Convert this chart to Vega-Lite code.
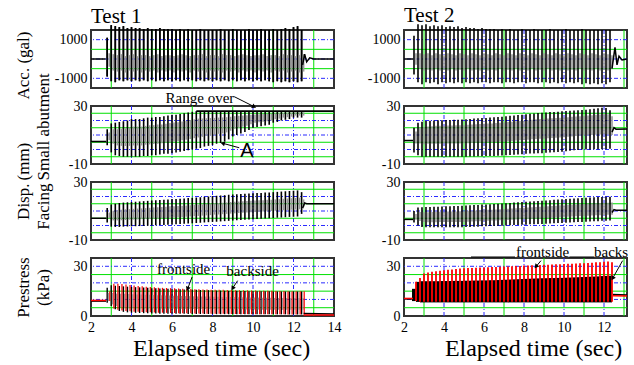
{
"$schema": "https://vega.github.io/schema/vega-lite/v6.json",
"padding": {"left": 13, "top": 4, "right": 0, "bottom": 0},
"background": "white",
"config": {
 "font": "Liberation Serif",
 "view": {"stroke": "#333333", "strokeWidth": 2},
 "axis": {"labelFont": "Liberation Serif", "labelFontSize": 14, "labelColor": "#000", "titleFont": "Liberation Serif", "titleFontSize": 17, "titleFontWeight": "normal", "titleColor": "#000", "domain": false, "ticks": false, "grid": false, "labelOverlap": false, "labelFlush": false, "labelPadding": 4},
 "title": {"font": "Liberation Serif", "fontSize": 21, "fontWeight": "normal", "color": "#000", "anchor": "start", "frame": "group", "offset": -3}
},
"datasets": {
 "gxm": [{"v":3},{"v":5},{"v":7},{"v":9},{"v":11},{"v":13}],
 "gxM": [{"v":4},{"v":6},{"v":8},{"v":10},{"v":12}],
 "gyAm": [{"v":-500},{"v":500}],
 "gyAM": [{"v":-1000},{"v":0},{"v":1000}],
 "gyDm": [{"v":-5},{"v":5},{"v":15},{"v":25}],
 "gyDM": [{"v":0},{"v":10},{"v":20}],
 "gyPm": [{"v":5},{"v":15},{"v":25}],
 "gyPM": [{"v":10},{"v":20},{"v":30}],
 "a1": [
{"t":2.8,"hi":1100,"lo":-900,"gh":300,"gl":-400},{"t":3.0,"hi":1750,"lo":-1150,"gh":250,"gl":-600},{"t":3.2,"hi":1700,"lo":-1200,"gh":200,"gl":-650},{"t":3.4,"hi":1650,"lo":-1100,"gh":250,"gl":-600},{"t":3.6,"hi":1700,"lo":-1150,"gh":150,"gl":-700},{"t":3.8,"hi":1600,"lo":-1100,"gh":200,"gl":-600},{"t":4.0,"hi":1650,"lo":-1150,"gh":250,"gl":-650},{"t":4.2,"hi":1600,"lo":-1100,"gh":150,"gl":-600},{"t":4.4,"hi":1600,"lo":-1150,"gh":200,"gl":-700},{"t":4.6,"hi":1550,"lo":-1100,"gh":200,"gl":-600},{"t":4.8,"hi":1600,"lo":-1150,"gh":150,"gl":-650},{"t":5.0,"hi":1550,"lo":-1100,"gh":200,"gl":-600},{"t":5.2,"hi":1550,"lo":-1150,"gh":250,"gl":-700},{"t":5.4,"hi":1600,"lo":-1100,"gh":150,"gl":-600},{"t":5.6,"hi":1550,"lo":-1150,"gh":200,"gl":-650},{"t":5.8,"hi":1550,"lo":-1100,"gh":200,"gl":-600},{"t":6.0,"hi":1550,"lo":-1150,"gh":150,"gl":-700},{"t":6.2,"hi":1500,"lo":-1100,"gh":200,"gl":-600},{"t":6.4,"hi":1550,"lo":-1150,"gh":250,"gl":-650},{"t":6.6,"hi":1500,"lo":-1100,"gh":200,"gl":-600},{"t":6.8,"hi":1550,"lo":-1150,"gh":150,"gl":-700},{"t":7.0,"hi":1500,"lo":-1100,"gh":200,"gl":-600},{"t":7.2,"hi":1500,"lo":-1150,"gh":200,"gl":-650},{"t":7.4,"hi":1550,"lo":-1100,"gh":250,"gl":-600},{"t":7.6,"hi":1500,"lo":-1150,"gh":150,"gl":-700},{"t":7.8,"hi":1500,"lo":-1100,"gh":200,"gl":-600},{"t":8.0,"hi":1500,"lo":-1150,"gh":200,"gl":-650},{"t":8.2,"hi":1500,"lo":-1100,"gh":150,"gl":-600},{"t":8.4,"hi":1550,"lo":-1150,"gh":250,"gl":-700},{"t":8.6,"hi":1500,"lo":-1100,"gh":200,"gl":-600},{"t":8.8,"hi":1500,"lo":-1150,"gh":200,"gl":-650},{"t":9.0,"hi":1550,"lo":-1100,"gh":150,"gl":-600},{"t":9.2,"hi":1500,"lo":-1150,"gh":200,"gl":-700},{"t":9.4,"hi":1500,"lo":-1100,"gh":250,"gl":-600},{"t":9.6,"hi":1500,"lo":-1150,"gh":200,"gl":-650},{"t":9.8,"hi":1550,"lo":-1100,"gh":150,"gl":-600},{"t":10.0,"hi":1500,"lo":-1150,"gh":200,"gl":-700},{"t":10.2,"hi":1500,"lo":-1100,"gh":200,"gl":-600},{"t":10.4,"hi":1550,"lo":-1150,"gh":250,"gl":-650},{"t":10.6,"hi":1500,"lo":-1100,"gh":150,"gl":-600},{"t":10.8,"hi":1500,"lo":-1150,"gh":200,"gl":-700},{"t":11.0,"hi":1550,"lo":-1200,"gh":200,"gl":-600},{"t":11.2,"hi":1500,"lo":-1150,"gh":150,"gl":-650},{"t":11.4,"hi":1550,"lo":-1200,"gh":250,"gl":-600},{"t":11.6,"hi":1600,"lo":-1150,"gh":200,"gl":-700},{"t":11.8,"hi":1550,"lo":-1200,"gh":200,"gl":-650},{"t":12.0,"hi":1650,"lo":-1150,"gh":150,"gl":-600},{"t":12.2,"hi":1700,"lo":-1200,"gh":200,"gl":-700},{"t":12.4,"hi":1500,"lo":-1150,"gh":250,"gl":-650}
 ],
 "a1l": [{"g":1,"t":2,"v":0},{"g":1,"t":2.72,"v":0},{"g":2,"t":12.45,"v":-300},{"g":2,"t":12.55,"v":250},{"g":2,"t":12.65,"v":-150},{"g":2,"t":12.8,"v":60},{"g":2,"t":13,"v":0},{"g":2,"t":14,"v":0}],
 "d1": [
{"t":2.8,"hi":14,"lo":3,"gh":11.8,"gl":6.3},{"t":3.0,"hi":18,"lo":-2,"gh":14,"gl":4},{"t":3.2,"hi":18.5,"lo":-4,"gh":14,"gl":2.8},{"t":3.4,"hi":19,"lo":-4.5,"gh":14.3,"gl":2.5},{"t":3.6,"hi":19.5,"lo":-5,"gh":14.6,"gl":2.4},{"t":3.8,"hi":20,"lo":-5,"gh":15,"gl":2.5},{"t":4.0,"hi":21,"lo":-5,"gh":15.8,"gl":2.8},{"t":4.2,"hi":21,"lo":-5,"gh":15.8,"gl":2.8},{"t":4.4,"hi":21,"lo":-5,"gh":15.8,"gl":2.8},{"t":4.6,"hi":21.5,"lo":-4.5,"gh":16.3,"gl":3.3},{"t":4.8,"hi":22,"lo":-4.5,"gh":16.7,"gl":3.5},{"t":5.0,"hi":22,"lo":-4,"gh":16.8,"gl":3.8},{"t":5.2,"hi":22.5,"lo":-4,"gh":17.2,"gl":4},{"t":5.4,"hi":22.5,"lo":-3.5,"gh":17.3,"gl":4.3},{"t":5.6,"hi":23,"lo":-3,"gh":17.8,"gl":4.8},{"t":5.8,"hi":23.5,"lo":-3,"gh":18.2,"gl":5},{"t":6.0,"hi":24,"lo":-2.5,"gh":18.7,"gl":5.5},{"t":6.2,"hi":24,"lo":-2,"gh":18.8,"gl":5.8},{"t":6.4,"hi":24.5,"lo":-1.5,"gh":19.3,"gl":6.3},{"t":6.6,"hi":25,"lo":-1,"gh":19.8,"gl":6.8},{"t":6.8,"hi":25.5,"lo":-0.5,"gh":20.3,"gl":7.3},{"t":7.0,"hi":26,"lo":0,"gh":20.8,"gl":7.8},{"t":7.2,"hi":26.5,"lo":0.5,"gh":21.3,"gl":8.3},{"t":7.4,"hi":26.5,"lo":1,"gh":21.4,"gl":8.7},{"t":7.6,"hi":26.5,"lo":2,"gh":21.6,"gl":9.4},{"t":7.8,"hi":26.5,"lo":2.5,"gh":21.7,"gl":9.7},{"t":8.0,"hi":26.5,"lo":3,"gh":21.8,"gl":10},{"t":8.2,"hi":26.5,"lo":4,"gh":22,"gl":10.8},{"t":8.4,"hi":26.5,"lo":4.5,"gh":22.1,"gl":11.1},{"t":8.6,"hi":26.5,"lo":5.5,"gh":22.3,"gl":11.8},{"t":8.8,"hi":26.5,"lo":7,"gh":22.6,"gl":12.9},{"t":9.0,"hi":26.5,"lo":9,"gh":23,"gl":14.3},{"t":9.2,"hi":26.5,"lo":10,"gh":23.2,"gl":15},{"t":9.4,"hi":26.5,"lo":11,"gh":23.4,"gl":15.7},{"t":9.6,"hi":26.5,"lo":12,"gh":23.6,"gl":16.4},{"t":9.8,"hi":26.5,"lo":13.5,"gh":23.9,"gl":17.4},{"t":10.0,"hi":26.5,"lo":15,"gh":24.2,"gl":18.5},{"t":10.2,"hi":26.5,"lo":15.5,"gh":24.3,"gl":18.8},{"t":10.4,"hi":26.5,"lo":16,"gh":24.4,"gl":19.2},{"t":10.6,"hi":26.5,"lo":16.5,"gh":24.5,"gl":19.5},{"t":10.8,"hi":26.5,"lo":17,"gh":24.6,"gl":19.9},{"t":11.0,"hi":26.5,"lo":18.5,"gh":24.9,"gl":20.9},{"t":11.2,"hi":26.5,"lo":19,"gh":25,"gl":21.3},{"t":11.4,"hi":26.5,"lo":20,"gh":25.2,"gl":22},{"t":11.6,"hi":26.5,"lo":20.5,"gh":25.3,"gl":22.3},{"t":11.8,"hi":26.5,"lo":21,"gh":25.4,"gl":22.7},{"t":12.0,"hi":26.5,"lo":22,"gh":25.6,"gl":23.4},{"t":12.2,"hi":26.5,"lo":22,"gh":25.6,"gl":23.4},{"t":12.4,"hi":26.5,"lo":22,"gh":25.6,"gl":23.4}
 ],
 "d1l": [{"g":1,"t":2,"v":5.5},{"g":1,"t":2.75,"v":5.5},{"g":2,"t":7.2,"v":26.5},{"g":2,"t":14,"v":26.5}],
 "f1": [
{"t":2.8,"hi":12,"lo":2,"gh":9,"gl":5},{"t":3.0,"hi":14.5,"lo":-0.8,"gh":10.2,"gl":3.5},{"t":3.2,"hi":15,"lo":-1,"gh":10.5,"gl":3.5},{"t":3.4,"hi":15.5,"lo":-1,"gh":10.9,"gl":3.6},{"t":3.6,"hi":15.8,"lo":-0.8,"gh":11.2,"gl":3.8},{"t":3.8,"hi":16,"lo":-0.7,"gh":11.3,"gl":4},{"t":4.0,"hi":16.2,"lo":-0.6,"gh":11.5,"gl":4.1},{"t":4.2,"hi":16.4,"lo":-0.5,"gh":11.7,"gl":4.2},{"t":4.4,"hi":16.6,"lo":-0.4,"gh":11.8,"gl":4.4},{"t":4.6,"hi":16.8,"lo":-0.3,"gh":12,"gl":4.5},{"t":4.8,"hi":17,"lo":-0.2,"gh":12.2,"gl":4.6},{"t":5.0,"hi":17.3,"lo":0,"gh":12.5,"gl":4.8},{"t":5.2,"hi":17.4,"lo":0.1,"gh":12.6,"gl":4.9},{"t":5.4,"hi":17.6,"lo":0.3,"gh":12.8,"gl":5.1},{"t":5.6,"hi":17.8,"lo":0.4,"gh":13,"gl":5.2},{"t":5.8,"hi":18,"lo":0.6,"gh":13.2,"gl":5.4},{"t":6.0,"hi":18.2,"lo":0.7,"gh":13.3,"gl":5.6},{"t":6.2,"hi":18.3,"lo":0.9,"gh":13.5,"gl":5.7},{"t":6.4,"hi":18.5,"lo":1,"gh":13.6,"gl":5.9},{"t":6.6,"hi":18.7,"lo":1.2,"gh":13.8,"gl":6.1},{"t":6.8,"hi":18.9,"lo":1.3,"gh":14,"gl":6.2},{"t":7.0,"hi":19.1,"lo":1.5,"gh":14.2,"gl":6.4},{"t":7.2,"hi":19.3,"lo":1.7,"gh":14.4,"gl":6.6},{"t":7.4,"hi":19.5,"lo":1.9,"gh":14.6,"gl":6.8},{"t":7.6,"hi":19.8,"lo":2.1,"gh":14.9,"gl":7},{"t":7.8,"hi":20,"lo":2.3,"gh":15.1,"gl":7.2},{"t":8.0,"hi":20.3,"lo":2.5,"gh":15.3,"gl":7.5},{"t":8.2,"hi":20.5,"lo":2.6,"gh":15.5,"gl":7.6},{"t":8.4,"hi":20.7,"lo":2.8,"gh":15.7,"gl":7.8},{"t":8.6,"hi":20.9,"lo":3,"gh":15.9,"gl":8},{"t":8.8,"hi":21.2,"lo":3.2,"gh":16.2,"gl":8.2},{"t":9.0,"hi":21.4,"lo":3.4,"gh":16.4,"gl":8.4},{"t":9.2,"hi":21.5,"lo":3.6,"gh":16.5,"gl":8.6},{"t":9.4,"hi":21.7,"lo":3.8,"gh":16.7,"gl":8.8},{"t":9.6,"hi":21.9,"lo":4,"gh":16.9,"gl":9},{"t":9.8,"hi":22,"lo":4.1,"gh":17,"gl":9.1},{"t":10.0,"hi":22.2,"lo":4.3,"gh":17.2,"gl":9.3},{"t":10.2,"hi":22.4,"lo":4.5,"gh":17.4,"gl":9.5},{"t":10.4,"hi":22.5,"lo":4.7,"gh":17.5,"gl":9.7},{"t":10.6,"hi":22.7,"lo":4.9,"gh":17.7,"gl":9.9},{"t":10.8,"hi":22.8,"lo":5,"gh":17.8,"gl":10},{"t":11.0,"hi":23,"lo":5.2,"gh":18,"gl":10.2},{"t":11.2,"hi":23.2,"lo":5.4,"gh":18.2,"gl":10.4},{"t":11.4,"hi":23.4,"lo":5.5,"gh":18.4,"gl":10.5},{"t":11.6,"hi":23.6,"lo":5.7,"gh":18.6,"gl":10.7},{"t":11.8,"hi":23.8,"lo":5.9,"gh":18.8,"gl":10.9},{"t":12.0,"hi":24,"lo":6,"gh":19,"gl":11},{"t":12.2,"hi":24.2,"lo":6.2,"gh":19.2,"gl":11.2},{"t":12.4,"hi":23,"lo":8,"gh":18,"gl":13}
 ],
 "f1l": [{"g":1,"t":2,"v":5},{"g":1,"t":2.75,"v":5},{"g":2,"t":12.45,"v":12},{"g":2,"t":12.55,"v":15.5},{"g":2,"t":12.65,"v":15},{"g":2,"t":14,"v":15}],
 "p1": [
{"t":2.8,"hi":17,"lo":8,"gh":14,"gl":9,"rh":15,"rl":9},{"t":3.0,"hi":18.5,"lo":6,"gh":14,"gl":7,"rh":19.5,"rl":4.5},{"t":3.2,"hi":18.3,"lo":4,"gh":13.5,"gl":6,"rh":19.5,"rl":3.8},{"t":3.4,"hi":18.1,"lo":3,"gh":13.5,"gl":5.5,"rh":19.3,"rl":3.3},{"t":3.6,"hi":17.9,"lo":2.5,"gh":13.5,"gl":5,"rh":19,"rl":3},{"t":3.8,"hi":17.7,"lo":2.2,"gh":13.3,"gl":5,"rh":18.7,"rl":2.8},{"t":4.0,"hi":17.5,"lo":2,"gh":13.2,"gl":5,"rh":18.4,"rl":2.6},{"t":4.2,"hi":17.4,"lo":1.9,"gh":13,"gl":5,"rh":18.1,"rl":2.5},{"t":4.4,"hi":17.3,"lo":1.8,"gh":13,"gl":4.8,"rh":17.9,"rl":2.4},{"t":4.6,"hi":17.2,"lo":1.7,"gh":12.8,"gl":4.8,"rh":17.7,"rl":2.3},{"t":4.8,"hi":17,"lo":1.6,"gh":12.8,"gl":4.8,"rh":17.5,"rl":2.2},{"t":5.0,"hi":16.8,"lo":1.5,"gh":12.6,"gl":4.7,"rh":17.3,"rl":2.1},{"t":5.2,"hi":16.7,"lo":1.5,"gh":12.5,"gl":4.7,"rh":17.1,"rl":2},{"t":5.4,"hi":16.6,"lo":1.4,"gh":12.5,"gl":4.6,"rh":17,"rl":2},{"t":5.6,"hi":16.5,"lo":1.4,"gh":12.4,"gl":4.6,"rh":16.9,"rl":1.9},{"t":5.8,"hi":16.4,"lo":1.4,"gh":12.3,"gl":4.5,"rh":16.8,"rl":1.8},{"t":6.0,"hi":16.3,"lo":1.3,"gh":12.2,"gl":4.5,"rh":16.7,"rl":1.8},{"t":6.2,"hi":16.2,"lo":1.3,"gh":12.2,"gl":4.5,"rh":16.6,"rl":1.7},{"t":6.4,"hi":16.1,"lo":1.3,"gh":12.1,"gl":4.4,"rh":16.5,"rl":1.7},{"t":6.6,"hi":16,"lo":1.3,"gh":12,"gl":4.4,"rh":16.4,"rl":1.6},{"t":6.8,"hi":16,"lo":1.2,"gh":12,"gl":4.4,"rh":16.3,"rl":1.6},{"t":7.0,"hi":15.9,"lo":1.2,"gh":11.9,"gl":4.3,"rh":16.2,"rl":1.5},{"t":7.2,"hi":15.8,"lo":1.2,"gh":11.8,"gl":4.3,"rh":16.1,"rl":1.5},{"t":7.4,"hi":15.7,"lo":1.2,"gh":11.8,"gl":4.3,"rh":16,"rl":1.5},{"t":7.6,"hi":15.6,"lo":1.2,"gh":11.7,"gl":4.2,"rh":16,"rl":1.4},{"t":7.8,"hi":15.6,"lo":1.2,"gh":11.7,"gl":4.2,"rh":15.9,"rl":1.4},{"t":8.0,"hi":15.5,"lo":1.1,"gh":11.6,"gl":4.2,"rh":15.9,"rl":1.4},{"t":8.2,"hi":15.4,"lo":1.1,"gh":11.6,"gl":4.1,"rh":15.8,"rl":1.3},{"t":8.4,"hi":15.4,"lo":1.1,"gh":11.5,"gl":4.1,"rh":15.8,"rl":1.3},{"t":8.6,"hi":15.3,"lo":1.1,"gh":11.5,"gl":4.1,"rh":15.7,"rl":1.3},{"t":8.8,"hi":15.3,"lo":1.1,"gh":11.4,"gl":4,"rh":15.7,"rl":1.2},{"t":9.0,"hi":15.2,"lo":1.1,"gh":11.4,"gl":4,"rh":15.6,"rl":1.2},{"t":9.2,"hi":15.2,"lo":1.1,"gh":11.3,"gl":4,"rh":15.6,"rl":1.2},{"t":9.4,"hi":15.1,"lo":1.1,"gh":11.3,"gl":4,"rh":15.5,"rl":1.2},{"t":9.6,"hi":15.1,"lo":1,"gh":11.2,"gl":3.9,"rh":15.5,"rl":1.1},{"t":9.8,"hi":15,"lo":1,"gh":11.2,"gl":3.9,"rh":15.4,"rl":1.1},{"t":10.0,"hi":15,"lo":1,"gh":11.1,"gl":3.9,"rh":15.4,"rl":1.1},{"t":10.2,"hi":15,"lo":1,"gh":11.1,"gl":3.9,"rh":15.3,"rl":1.1},{"t":10.4,"hi":14.9,"lo":1,"gh":11,"gl":3.8,"rh":15.3,"rl":1},{"t":10.6,"hi":14.9,"lo":1,"gh":11,"gl":3.8,"rh":15.2,"rl":1},{"t":10.8,"hi":14.9,"lo":1,"gh":11,"gl":3.8,"rh":15.2,"rl":1},{"t":11.0,"hi":14.8,"lo":1,"gh":10.9,"gl":3.8,"rh":15.1,"rl":1},{"t":11.2,"hi":14.8,"lo":1,"gh":10.9,"gl":3.8,"rh":15.1,"rl":1},{"t":11.4,"hi":14.8,"lo":1,"gh":10.9,"gl":3.7,"rh":15.1,"rl":1},{"t":11.6,"hi":14.8,"lo":1,"gh":10.8,"gl":3.7,"rh":15,"rl":0.9},{"t":11.8,"hi":14.8,"lo":0.9,"gh":10.8,"gl":3.7,"rh":15,"rl":0.9},{"t":12.0,"hi":14.8,"lo":0.9,"gh":10.8,"gl":3.7,"rh":15,"rl":0.9},{"t":12.2,"hi":14.8,"lo":0.9,"gh":10.8,"gl":3.7,"rh":15,"rl":0.9},{"t":12.4,"hi":14.8,"lo":0.9,"gh":10.8,"gl":3.7,"rh":15,"rl":0.9}
 ],
 "p1l": [{"g":1,"c":"k","t":2,"v":9},{"g":1,"c":"k","t":2.75,"v":9},{"g":2,"c":"k","t":12.5,"v":1.5},{"g":2,"c":"k","t":14,"v":1.2},{"g":3,"c":"r","t":2,"v":9.4},{"g":3,"c":"r","t":2.75,"v":9.4},{"g":4,"c":"r","t":12.5,"v":0.6},{"g":4,"c":"r","t":14,"v":0.6}],
 "a2": [
{"t":2.5,"hi":1200,"lo":-800,"gh":300,"gl":-300},{"t":2.7,"hi":1800,"lo":-1200,"gh":300,"gl":-500},{"t":2.9,"hi":1750,"lo":-1300,"gh":250,"gl":-600},{"t":3.1,"hi":1800,"lo":-1200,"gh":300,"gl":-550},{"t":3.3,"hi":1700,"lo":-1250,"gh":200,"gl":-600},{"t":3.5,"hi":1750,"lo":-1200,"gh":300,"gl":-500},{"t":3.7,"hi":1700,"lo":-1300,"gh":250,"gl":-600},{"t":3.9,"hi":1750,"lo":-1200,"gh":200,"gl":-550},{"t":4.1,"hi":1650,"lo":-1250,"gh":300,"gl":-600},{"t":4.3,"hi":1700,"lo":-1200,"gh":250,"gl":-500},{"t":4.5,"hi":1650,"lo":-1250,"gh":200,"gl":-600},{"t":4.7,"hi":1700,"lo":-1200,"gh":300,"gl":-550},{"t":4.9,"hi":1600,"lo":-1250,"gh":250,"gl":-600},{"t":5.1,"hi":1650,"lo":-1200,"gh":200,"gl":-500},{"t":5.3,"hi":1600,"lo":-1250,"gh":300,"gl":-600},{"t":5.5,"hi":1600,"lo":-1200,"gh":250,"gl":-550},{"t":5.7,"hi":1550,"lo":-1250,"gh":200,"gl":-600},{"t":5.9,"hi":1600,"lo":-1200,"gh":300,"gl":-500},{"t":6.1,"hi":1550,"lo":-1200,"gh":250,"gl":-600},{"t":6.3,"hi":1550,"lo":-1250,"gh":200,"gl":-550},{"t":6.5,"hi":1550,"lo":-1200,"gh":300,"gl":-600},{"t":6.7,"hi":1500,"lo":-1200,"gh":250,"gl":-500},{"t":6.9,"hi":1550,"lo":-1250,"gh":200,"gl":-600},{"t":7.1,"hi":1500,"lo":-1200,"gh":300,"gl":-550},{"t":7.3,"hi":1550,"lo":-1200,"gh":250,"gl":-600},{"t":7.5,"hi":1500,"lo":-1250,"gh":200,"gl":-500},{"t":7.7,"hi":1500,"lo":-1200,"gh":300,"gl":-600},{"t":7.9,"hi":1550,"lo":-1200,"gh":250,"gl":-550},{"t":8.1,"hi":1500,"lo":-1250,"gh":200,"gl":-600},{"t":8.3,"hi":1500,"lo":-1200,"gh":300,"gl":-500},{"t":8.5,"hi":1550,"lo":-1200,"gh":250,"gl":-600},{"t":8.7,"hi":1500,"lo":-1250,"gh":200,"gl":-550},{"t":8.9,"hi":1500,"lo":-1200,"gh":300,"gl":-600},{"t":9.1,"hi":1500,"lo":-1200,"gh":250,"gl":-500},{"t":9.3,"hi":1550,"lo":-1250,"gh":200,"gl":-600},{"t":9.5,"hi":1500,"lo":-1200,"gh":300,"gl":-550},{"t":9.7,"hi":1500,"lo":-1250,"gh":250,"gl":-600},{"t":9.9,"hi":1500,"lo":-1200,"gh":200,"gl":-500},{"t":10.1,"hi":1550,"lo":-1250,"gh":300,"gl":-600},{"t":10.3,"hi":1500,"lo":-1200,"gh":250,"gl":-550},{"t":10.5,"hi":1500,"lo":-1250,"gh":200,"gl":-600},{"t":10.7,"hi":1500,"lo":-1200,"gh":300,"gl":-500},{"t":10.9,"hi":1550,"lo":-1300,"gh":250,"gl":-600},{"t":11.1,"hi":1500,"lo":-1250,"gh":200,"gl":-550},{"t":11.3,"hi":1500,"lo":-1300,"gh":300,"gl":-600},{"t":11.5,"hi":1500,"lo":-1250,"gh":250,"gl":-500},{"t":11.7,"hi":1500,"lo":-1300,"gh":200,"gl":-600},{"t":11.9,"hi":1500,"lo":-1250,"gh":300,"gl":-550},{"t":12.1,"hi":1500,"lo":-1300,"gh":250,"gl":-600},{"t":12.3,"hi":1500,"lo":-1200,"gh":200,"gl":-500}
 ],
 "a2l": [{"g":1,"t":2,"v":0},{"g":1,"t":2.45,"v":0},{"g":2,"t":12.4,"v":-500},{"g":2,"t":12.55,"v":600},{"g":2,"t":12.65,"v":-300},{"g":2,"t":12.75,"v":150},{"g":2,"t":12.9,"v":-50},{"g":2,"t":13.15,"v":0}],
 "d2": [
{"t":2.5,"hi":15,"lo":-2,"gh":12.5,"gl":4.1},{"t":2.7,"hi":18.4,"lo":-4,"gh":15,"gl":4.1},{"t":2.9,"hi":19.2,"lo":-5,"gh":15.6,"gl":3.7},{"t":3.1,"hi":19.6,"lo":-5,"gh":15.9,"gl":3.9},{"t":3.3,"hi":19.8,"lo":-5,"gh":16.1,"gl":3.9},{"t":3.5,"hi":20,"lo":-5,"gh":16.3,"gl":4},{"t":3.7,"hi":20.1,"lo":-5,"gh":16.3,"gl":4},{"t":3.9,"hi":20.2,"lo":-5,"gh":16.4,"gl":4.1},{"t":4.1,"hi":20.3,"lo":-5,"gh":16.5,"gl":4.1},{"t":4.3,"hi":20.4,"lo":-5,"gh":16.6,"gl":4.1},{"t":4.5,"hi":20.5,"lo":-5,"gh":16.7,"gl":4.2},{"t":4.7,"hi":20.6,"lo":-5,"gh":16.8,"gl":4.2},{"t":4.9,"hi":20.7,"lo":-5,"gh":16.8,"gl":4.3},{"t":5.1,"hi":20.9,"lo":-5,"gh":17,"gl":4.3},{"t":5.3,"hi":21.1,"lo":-4.8,"gh":17.2,"gl":4.5},{"t":5.5,"hi":21.3,"lo":-4.8,"gh":17.4,"gl":4.6},{"t":5.7,"hi":21.5,"lo":-4.7,"gh":17.6,"gl":4.7},{"t":5.9,"hi":21.7,"lo":-4.6,"gh":17.8,"gl":4.9},{"t":6.1,"hi":21.8,"lo":-4.5,"gh":17.9,"gl":5},{"t":6.3,"hi":22,"lo":-4.5,"gh":18,"gl":5},{"t":6.5,"hi":22.2,"lo":-4.4,"gh":18.2,"gl":5.2},{"t":6.7,"hi":22.4,"lo":-4.3,"gh":18.4,"gl":5.3},{"t":6.9,"hi":22.6,"lo":-4.2,"gh":18.6,"gl":5.4},{"t":7.1,"hi":22.9,"lo":-4,"gh":18.9,"gl":5.7},{"t":7.3,"hi":23.2,"lo":-3.8,"gh":19.1,"gl":5.9},{"t":7.5,"hi":23.5,"lo":-3.6,"gh":19.4,"gl":6.2},{"t":7.7,"hi":23.8,"lo":-3.4,"gh":19.7,"gl":6.4},{"t":7.9,"hi":24,"lo":-3.2,"gh":19.9,"gl":6.6},{"t":8.1,"hi":24.3,"lo":-3,"gh":20.2,"gl":6.8},{"t":8.3,"hi":24.6,"lo":-2.8,"gh":20.5,"gl":7.1},{"t":8.5,"hi":24.9,"lo":-2.7,"gh":20.8,"gl":7.2},{"t":8.7,"hi":25.1,"lo":-2.6,"gh":21,"gl":7.4},{"t":8.9,"hi":25.4,"lo":-2.5,"gh":21.2,"gl":7.5},{"t":9.1,"hi":25.6,"lo":-2.3,"gh":21.4,"gl":7.7},{"t":9.3,"hi":25.8,"lo":-2.1,"gh":21.6,"gl":7.9},{"t":9.5,"hi":25.9,"lo":-1.9,"gh":21.7,"gl":8.1},{"t":9.7,"hi":26.1,"lo":-1.7,"gh":21.9,"gl":8.3},{"t":9.9,"hi":26.3,"lo":-1.5,"gh":22.1,"gl":8.5},{"t":10.1,"hi":26.5,"lo":-1.2,"gh":22.3,"gl":8.8},{"t":10.3,"hi":26.7,"lo":-0.9,"gh":22.6,"gl":9},{"t":10.5,"hi":26.9,"lo":-0.6,"gh":22.8,"gl":9.3},{"t":10.7,"hi":27,"lo":-0.3,"gh":22.9,"gl":9.5},{"t":10.9,"hi":27.2,"lo":0,"gh":23.1,"gl":9.8},{"t":11.1,"hi":27.5,"lo":0,"gh":23.4,"gl":9.9},{"t":11.3,"hi":27.8,"lo":0,"gh":23.6,"gl":10},{"t":11.5,"hi":28.1,"lo":0.1,"gh":23.9,"gl":10.2},{"t":11.7,"hi":28.4,"lo":0.1,"gh":24.2,"gl":10.3},{"t":11.9,"hi":28.8,"lo":0.2,"gh":24.5,"gl":10.5},{"t":12.1,"hi":28.6,"lo":0.2,"gh":24.3,"gl":10.4},{"t":12.3,"hi":27,"lo":0.5,"gh":23,"gl":10}
 ],
 "d2l": [{"g":1,"t":2,"v":6.2},{"g":1,"t":2.45,"v":6.2},{"g":2,"t":12.4,"v":12},{"g":2,"t":12.5,"v":15},{"g":2,"t":12.6,"v":14},{"g":2,"t":13.15,"v":14.2}],
 "f2": [
{"t":2.5,"hi":10,"lo":2,"gh":8,"gl":4},{"t":2.7,"hi":12.4,"lo":0,"gh":9.3,"gl":3.1},{"t":2.9,"hi":12.6,"lo":-1,"gh":9.2,"gl":2.4},{"t":3.1,"hi":12.7,"lo":-1.2,"gh":9.2,"gl":2.3},{"t":3.3,"hi":12.8,"lo":-1.2,"gh":9.3,"gl":2.3},{"t":3.5,"hi":12.9,"lo":-1.2,"gh":9.4,"gl":2.3},{"t":3.7,"hi":13,"lo":-1.2,"gh":9.5,"gl":2.4},{"t":3.9,"hi":13.1,"lo":-1.2,"gh":9.5,"gl":2.4},{"t":4.1,"hi":13.2,"lo":-1.2,"gh":9.6,"gl":2.4},{"t":4.3,"hi":13.3,"lo":-1.2,"gh":9.7,"gl":2.4},{"t":4.5,"hi":13.4,"lo":-1.2,"gh":9.7,"gl":2.5},{"t":4.7,"hi":13.5,"lo":-1.2,"gh":9.8,"gl":2.5},{"t":4.9,"hi":13.6,"lo":-1.2,"gh":9.9,"gl":2.5},{"t":5.1,"hi":13.8,"lo":-1.1,"gh":10.1,"gl":2.6},{"t":5.3,"hi":13.9,"lo":-1,"gh":10.2,"gl":2.7},{"t":5.5,"hi":14.1,"lo":-0.9,"gh":10.4,"gl":2.9},{"t":5.7,"hi":14.2,"lo":-0.8,"gh":10.5,"gl":3},{"t":5.9,"hi":14.4,"lo":-0.6,"gh":10.7,"gl":3.2},{"t":6.1,"hi":14.5,"lo":-0.5,"gh":10.8,"gl":3.3},{"t":6.3,"hi":14.7,"lo":-0.4,"gh":10.9,"gl":3.4},{"t":6.5,"hi":14.9,"lo":-0.3,"gh":11.1,"gl":3.5},{"t":6.7,"hi":15,"lo":-0.2,"gh":11.2,"gl":3.6},{"t":6.9,"hi":15.2,"lo":-0.1,"gh":11.4,"gl":3.7},{"t":7.1,"hi":15.4,"lo":0,"gh":11.6,"gl":3.8},{"t":7.3,"hi":15.6,"lo":0.1,"gh":11.7,"gl":4},{"t":7.5,"hi":15.8,"lo":0.3,"gh":11.9,"gl":4.2},{"t":7.7,"hi":16,"lo":0.4,"gh":12.1,"gl":4.3},{"t":7.9,"hi":16.2,"lo":0.5,"gh":12.3,"gl":4.4},{"t":8.1,"hi":16.3,"lo":0.6,"gh":12.4,"gl":4.5},{"t":8.3,"hi":16.5,"lo":0.8,"gh":12.6,"gl":4.7},{"t":8.5,"hi":16.7,"lo":0.9,"gh":12.8,"gl":4.8},{"t":8.7,"hi":16.9,"lo":1,"gh":13,"gl":4.9},{"t":8.9,"hi":17.1,"lo":1.1,"gh":13.1,"gl":5.1},{"t":9.1,"hi":17.3,"lo":1.2,"gh":13.3,"gl":5.2},{"t":9.3,"hi":17.5,"lo":1.4,"gh":13.5,"gl":5.4},{"t":9.5,"hi":17.7,"lo":1.5,"gh":13.7,"gl":5.5},{"t":9.7,"hi":17.9,"lo":1.7,"gh":13.9,"gl":5.7},{"t":9.9,"hi":18.1,"lo":1.8,"gh":14,"gl":5.9},{"t":10.1,"hi":18.2,"lo":1.9,"gh":14.1,"gl":6},{"t":10.3,"hi":18.4,"lo":2.1,"gh":14.3,"gl":6.2},{"t":10.5,"hi":18.6,"lo":2.2,"gh":14.5,"gl":6.3},{"t":10.7,"hi":18.8,"lo":2.4,"gh":14.7,"gl":6.5},{"t":10.9,"hi":19,"lo":2.5,"gh":14.9,"gl":6.6},{"t":11.1,"hi":19.1,"lo":2.6,"gh":15,"gl":6.7},{"t":11.3,"hi":19.3,"lo":2.8,"gh":15.2,"gl":6.9},{"t":11.5,"hi":19.4,"lo":2.9,"gh":15.3,"gl":7},{"t":11.7,"hi":19.6,"lo":3,"gh":15.5,"gl":7.1},{"t":11.9,"hi":19.7,"lo":3.2,"gh":15.6,"gl":7.3},{"t":12.1,"hi":19.8,"lo":3.3,"gh":15.7,"gl":7.4},{"t":12.3,"hi":19.9,"lo":3.4,"gh":15.8,"gl":7.5}
 ],
 "f2l": [{"g":1,"t":2,"v":4.2},{"g":1,"t":2.45,"v":4.2},{"g":2,"t":12.4,"v":9},{"g":2,"t":12.5,"v":11},{"g":2,"t":12.6,"v":10.5},{"g":2,"t":13.15,"v":10.5}],
 "p2": [
{"t":2.5,"hi":16.4,"lo":9,"rh":20.6,"rl":9},{"t":2.7,"hi":20.6,"lo":8.5,"rh":23,"rl":8.6},{"t":2.9,"hi":21,"lo":8.2,"rh":25.7,"rl":8.6},{"t":3.1,"hi":21,"lo":8.2,"rh":26.2,"rl":8.6},{"t":3.3,"hi":21,"lo":8.2,"rh":26.7,"rl":8.6},{"t":3.5,"hi":21,"lo":8.2,"rh":27,"rl":8.6},{"t":3.7,"hi":21,"lo":8.2,"rh":27.3,"rl":8.6},{"t":3.9,"hi":21.1,"lo":8.2,"rh":27.6,"rl":8.6},{"t":4.1,"hi":21.1,"lo":8.2,"rh":27.9,"rl":8.6},{"t":4.3,"hi":21.1,"lo":8.2,"rh":28.1,"rl":8.6},{"t":4.5,"hi":21.2,"lo":8.2,"rh":28.4,"rl":8.6},{"t":4.7,"hi":21.2,"lo":8.2,"rh":28.6,"rl":8.6},{"t":4.9,"hi":21.2,"lo":8.2,"rh":28.8,"rl":8.6},{"t":5.1,"hi":21.3,"lo":8.2,"rh":28.9,"rl":8.6},{"t":5.3,"hi":21.3,"lo":8.2,"rh":29,"rl":8.6},{"t":5.5,"hi":21.4,"lo":8.2,"rh":29.1,"rl":8.6},{"t":5.7,"hi":21.4,"lo":8.2,"rh":29.2,"rl":8.6},{"t":5.9,"hi":21.5,"lo":8.2,"rh":29.3,"rl":8.6},{"t":6.1,"hi":21.5,"lo":8.2,"rh":29.4,"rl":8.6},{"t":6.3,"hi":21.6,"lo":8.2,"rh":29.5,"rl":8.6},{"t":6.5,"hi":21.6,"lo":8.2,"rh":29.6,"rl":8.6},{"t":6.7,"hi":21.7,"lo":8.2,"rh":29.7,"rl":8.6},{"t":6.9,"hi":21.8,"lo":8.2,"rh":29.8,"rl":8.6},{"t":7.1,"hi":21.9,"lo":8.2,"rh":29.9,"rl":8.6},{"t":7.3,"hi":22,"lo":8.2,"rh":30,"rl":8.6},{"t":7.5,"hi":22.1,"lo":8.2,"rh":30.1,"rl":8.6},{"t":7.7,"hi":22.2,"lo":8.2,"rh":30.2,"rl":8.6},{"t":7.9,"hi":22.3,"lo":8.2,"rh":30.4,"rl":8.6},{"t":8.1,"hi":22.4,"lo":8.2,"rh":30.5,"rl":8.6},{"t":8.3,"hi":22.5,"lo":8.2,"rh":30.6,"rl":8.6},{"t":8.5,"hi":22.6,"lo":8.2,"rh":30.7,"rl":8.6},{"t":8.7,"hi":22.7,"lo":8.2,"rh":30.8,"rl":8.6},{"t":8.9,"hi":22.8,"lo":8.2,"rh":30.9,"rl":8.6},{"t":9.1,"hi":22.8,"lo":8.2,"rh":31,"rl":8.6},{"t":9.3,"hi":22.9,"lo":8.2,"rh":31.1,"rl":8.6},{"t":9.5,"hi":22.9,"lo":8.2,"rh":31.2,"rl":8.6},{"t":9.7,"hi":23,"lo":8.2,"rh":31.3,"rl":8.6},{"t":9.9,"hi":23,"lo":8.2,"rh":31.4,"rl":8.6},{"t":10.1,"hi":23.1,"lo":8.2,"rh":31.5,"rl":8.6},{"t":10.3,"hi":23.2,"lo":8.2,"rh":31.6,"rl":8.6},{"t":10.5,"hi":23.3,"lo":8.2,"rh":31.7,"rl":8.6},{"t":10.7,"hi":23.4,"lo":8.2,"rh":31.8,"rl":8.6},{"t":10.9,"hi":23.5,"lo":8.2,"rh":31.9,"rl":8.6},{"t":11.1,"hi":23.6,"lo":8.2,"rh":32,"rl":8.6},{"t":11.3,"hi":23.7,"lo":8.2,"rh":32.2,"rl":8.6},{"t":11.5,"hi":23.8,"lo":8.2,"rh":32.4,"rl":8.6},{"t":11.7,"hi":23.9,"lo":8.2,"rh":32.5,"rl":8.6},{"t":11.9,"hi":24.1,"lo":8.2,"rh":32.7,"rl":8.6},{"t":12.1,"hi":24.2,"lo":8.2,"rh":32.9,"rl":8.6},{"t":12.3,"hi":24.3,"lo":8.2,"rh":32.5,"rl":8.6}
 ],
 "p2l": [{"g":1,"c":"k","t":2,"v":10.3},{"g":1,"c":"k","t":2.45,"v":10.3},{"g":2,"c":"k","t":12.45,"v":13},{"g":2,"c":"k","t":13.15,"v":12.6},{"g":3,"c":"r","t":2,"v":10.6},{"g":3,"c":"r","t":2.45,"v":10.6},{"g":4,"c":"r","t":12.45,"v":12.2},{"g":4,"c":"r","t":13.15,"v":12}],
 "n1d_txt": [{"t":7.38,"v":35.5,"s":"Range over"}],
 "n1d_A": [{"t":9.7,"v":-0.7,"s":"A"}],
 "n1d_ar": [{"t":9.08,"v":36.4,"t2":10.06,"v2":29.5},{"t":9.32,"v":1.2,"t2":8.5,"v2":4.3}],
 "n1d_h1": [{"t":10.06,"v":29.5}],
 "n1d_h2": [{"t":8.5,"v":4.3}],
 "n1p_txt": [{"t":6.57,"v":28.4,"s":"frontside"},{"t":9.98,"v":27.3,"s":"backside"}],
 "n1p_ar": [{"t":6.99,"v":23.5,"t2":6.77,"v2":16.3},{"t":9.24,"v":21.3,"t2":8.99,"v2":16.7}],
 "n1p_h1": [{"t":6.77,"v":16.3}],
 "n1p_h2": [{"t":8.99,"v":16.7}],
 "n2p_txt": [{"t":8.93,"v":38.8,"s":"frontside"}],
 "n2p_txt2": [{"t":11.5,"v":38.8,"s":"backs"}],
 "n2p_ar": [{"t":5.35,"v":35.6,"t2":7.55,"v2":35.6},{"t":10.27,"v":35.6,"t2":11.52,"v2":35.6},{"t":8.85,"v":33.4,"t2":8.6,"v2":29.8},{"t":12.93,"v":33.4,"t2":12.43,"v2":22.7}],
 "n2p_h1": [{"t":8.6,"v":29.8}],
 "n2p_h2": [{"t":12.43,"v":22.7}]
},
"hconcat": [
 {"bounds": "flush", "spacing": 18, "vconcat": [
  {"width": 243, "height": 58, "title": {"text": "Test 1"},
   "layer": [
    {"data": {"name": "a1"}, "mark": {"type": "rule", "color": "#000", "strokeWidth": 1.6, "clip": false},
     "encoding": {
      "x": {"field": "t", "type": "quantitative", "scale": {"domain": [2, 14], "nice": false, "zero": false}, "axis": {"values": [], "labels": false, "title": null}},
      "y": {"field": "lo", "type": "quantitative", "scale": {"domain": [-1500, 1500], "nice": false, "zero": false}, "axis": {"values": [-1000, 0, 1000], "labelExpr": "'' + datum.value", "labelOverlap": false, "title": "Acc. (gal)", "titleX": -59, "titleY": 35, "titleBaseline": "bottom"}},
      "y2": {"field": "hi"}}},
    {"data": {"name": "gxm"}, "mark": {"type": "rule", "color": "#00e000", "strokeWidth": 1}, "encoding": {"x": {"field": "v", "type": "quantitative"}}},
    {"data": {"name": "gxM"}, "mark": {"type": "rule", "color": "#2b2bff", "strokeWidth": 1, "strokeDash": [4, 2, 1, 2]}, "encoding": {"x": {"field": "v", "type": "quantitative"}}},
    {"data": {"name": "gyAm"}, "mark": {"type": "rule", "color": "#00e000", "strokeWidth": 1}, "encoding": {"y": {"field": "v", "type": "quantitative"}}},
    {"data": {"name": "gyAM"}, "mark": {"type": "rule", "color": "#2b2bff", "strokeWidth": 1, "strokeDash": [4, 2, 1, 2]}, "encoding": {"y": {"field": "v", "type": "quantitative"}}},
    {"data": {"name": "a1"}, "mark": {"type": "rule", "color": "#000", "strokeWidth": 1.6, "clip": false},
     "encoding": {"x": {"field": "t", "type": "quantitative"}, "y": {"field": "lo", "type": "quantitative"}, "y2": {"field": "hi"}}},
    {"data": {"name": "a1"}, "mark": {"type": "rule", "color": "#999999", "strokeWidth": 1.6, "xOffset": 2, "clip": false},
     "encoding": {"x": {"field": "t", "type": "quantitative"}, "y": {"field": "gl", "type": "quantitative"}, "y2": {"field": "gh"}}},
    {"data": {"name": "a1l"}, "mark": {"type": "line", "color": "#000", "strokeWidth": 1.5},
     "encoding": {"x": {"field": "t", "type": "quantitative"}, "y": {"field": "v", "type": "quantitative"}, "detail": {"field": "g"}}}
   ]},
  {"width": 243, "height": 58,
   "layer": [
    {"data": {"name": "gxm"}, "mark": {"type": "rule", "color": "#00e000", "strokeWidth": 1},
     "encoding": {"x": {"field": "v", "type": "quantitative", "scale": {"domain": [2, 14], "nice": false, "zero": false}, "axis": {"values": [], "labels": false, "title": null}}}},
    {"data": {"name": "gxM"}, "mark": {"type": "rule", "color": "#2b2bff", "strokeWidth": 1, "strokeDash": [4, 2, 1, 2]}, "encoding": {"x": {"field": "v", "type": "quantitative"}}},
    {"data": {"name": "gyDm"}, "mark": {"type": "rule", "color": "#00e000", "strokeWidth": 1},
     "encoding": {"y": {"field": "v", "type": "quantitative", "scale": {"domain": [-10, 30], "nice": false, "zero": false}, "axis": {"values": [-10, 0, 10, 20, 30], "labelExpr": "'' + datum.value", "labelOverlap": false, "title": ["(mm)", "Small abutment"], "titleX": -59, "titleY": 74, "titleAlign": "left", "titleBaseline": "bottom", "titleLineHeight": 20}}}},
    {"data": {"name": "gyDM"}, "mark": {"type": "rule", "color": "#2b2bff", "strokeWidth": 1, "strokeDash": [4, 2, 1, 2]}, "encoding": {"y": {"field": "v", "type": "quantitative"}}},
    {"data": {"name": "d1"}, "mark": {"type": "rule", "color": "#000", "strokeWidth": 1.6, "clip": true},
     "encoding": {"x": {"field": "t", "type": "quantitative"}, "y": {"field": "lo", "type": "quantitative"}, "y2": {"field": "hi"}}},
    {"data": {"name": "d1"}, "mark": {"type": "rule", "color": "#999999", "strokeWidth": 1.6, "xOffset": 2, "clip": true},
     "encoding": {"x": {"field": "t", "type": "quantitative"}, "y": {"field": "gl", "type": "quantitative"}, "y2": {"field": "gh"}}},
    {"data": {"name": "d1l"}, "mark": {"type": "line", "color": "#000", "strokeWidth": 1.6},
     "encoding": {"x": {"field": "t", "type": "quantitative"}, "y": {"field": "v", "type": "quantitative"}, "detail": {"field": "g"}}},
    {"data": {"name": "n1d_txt"}, "mark": {"type": "text", "font": "Liberation Serif", "fontSize": 15, "color": "#000", "align": "center", "baseline": "middle", "clip": false},
     "encoding": {"x": {"field": "t", "type": "quantitative"}, "y": {"field": "v", "type": "quantitative"}, "text": {"field": "s"}}},
    {"data": {"name": "n1d_A"}, "mark": {"type": "text", "font": "Liberation Sans", "fontSize": 20, "color": "#000", "align": "center", "baseline": "middle", "clip": false},
     "encoding": {"x": {"field": "t", "type": "quantitative"}, "y": {"field": "v", "type": "quantitative"}, "text": {"field": "s"}}},
    {"data": {"name": "n1d_ar"}, "mark": {"type": "rule", "color": "#000", "strokeWidth": 1, "clip": false},
     "encoding": {"x": {"field": "t", "type": "quantitative"}, "y": {"field": "v", "type": "quantitative"}, "x2": {"field": "t2"}, "y2": {"field": "v2"}}},
    {"data": {"name": "n1d_h1"}, "mark": {"type": "point", "shape": "triangle-right", "filled": true, "color": "#000", "size": 25, "angle": 27, "opacity": 1, "clip": false},
     "encoding": {"x": {"field": "t", "type": "quantitative"}, "y": {"field": "v", "type": "quantitative"}}},
    {"data": {"name": "n1d_h2"}, "mark": {"type": "point", "shape": "triangle-right", "filled": true, "color": "#000", "size": 25, "angle": 195, "opacity": 1, "clip": false},
     "encoding": {"x": {"field": "t", "type": "quantitative"}, "y": {"field": "v", "type": "quantitative"}}}
   ]},
  {"width": 243, "height": 58,
   "layer": [
    {"data": {"name": "gxm"}, "mark": {"type": "rule", "color": "#00e000", "strokeWidth": 1},
     "encoding": {"x": {"field": "v", "type": "quantitative", "scale": {"domain": [2, 14], "nice": false, "zero": false}, "axis": {"values": [], "labels": false, "title": null}}}},
    {"data": {"name": "gxM"}, "mark": {"type": "rule", "color": "#2b2bff", "strokeWidth": 1, "strokeDash": [4, 2, 1, 2]}, "encoding": {"x": {"field": "v", "type": "quantitative"}}},
    {"data": {"name": "gyDm"}, "mark": {"type": "rule", "color": "#00e000", "strokeWidth": 1},
     "encoding": {"y": {"field": "v", "type": "quantitative", "scale": {"domain": [-10, 30], "nice": false, "zero": false}, "axis": {"values": [-10, 0, 10, 20, 30], "labelExpr": "'' + datum.value", "labelOverlap": false, "title": ["Disp.", "Facing"], "titleX": -59, "titleY": 1, "titleAlign": "right", "titleBaseline": "bottom", "titleLineHeight": 20}}}},
    {"data": {"name": "gyDM"}, "mark": {"type": "rule", "color": "#2b2bff", "strokeWidth": 1, "strokeDash": [4, 2, 1, 2]}, "encoding": {"y": {"field": "v", "type": "quantitative"}}},
    {"data": {"name": "f1"}, "mark": {"type": "rule", "color": "#000", "strokeWidth": 1.6, "clip": true},
     "encoding": {"x": {"field": "t", "type": "quantitative"}, "y": {"field": "lo", "type": "quantitative"}, "y2": {"field": "hi"}}},
    {"data": {"name": "f1"}, "mark": {"type": "rule", "color": "#999999", "strokeWidth": 1.6, "xOffset": 2, "clip": true},
     "encoding": {"x": {"field": "t", "type": "quantitative"}, "y": {"field": "gl", "type": "quantitative"}, "y2": {"field": "gh"}}},
    {"data": {"name": "f1l"}, "mark": {"type": "line", "color": "#000", "strokeWidth": 1.5},
     "encoding": {"x": {"field": "t", "type": "quantitative"}, "y": {"field": "v", "type": "quantitative"}, "detail": {"field": "g"}}}
   ]},
  {"width": 243, "height": 58,
   "layer": [
    {"data": {"name": "gxm"}, "mark": {"type": "rule", "color": "#00e000", "strokeWidth": 1},
     "encoding": {"x": {"field": "v", "type": "quantitative", "scale": {"domain": [2, 14], "nice": false, "zero": false}, "axis": {"values": [2, 4, 6, 8, 10, 12, 14], "labelExpr": "'' + datum.value", "labelOverlap": false, "title": "Elapsed time (sec)", "titleFontSize": 24, "titleX": 130, "titlePadding": 2}}}},
    {"data": {"name": "gxM"}, "mark": {"type": "rule", "color": "#2b2bff", "strokeWidth": 1, "strokeDash": [4, 2, 1, 2]}, "encoding": {"x": {"field": "v", "type": "quantitative"}}},
    {"data": {"name": "gyPm"}, "mark": {"type": "rule", "color": "#00e000", "strokeWidth": 1},
     "encoding": {"y": {"field": "v", "type": "quantitative", "scale": {"domain": [0, 35], "nice": false, "zero": false}, "axis": {"values": [0, 10, 20, 30], "labelExpr": "'' + datum.value", "labelOverlap": false, "title": ["Prestress", "(kPa)"], "titleX": -59, "titleBaseline": "bottom", "titleLineHeight": 20}}}},
    {"data": {"name": "gyPM"}, "mark": {"type": "rule", "color": "#2b2bff", "strokeWidth": 1, "strokeDash": [4, 2, 1, 2]}, "encoding": {"y": {"field": "v", "type": "quantitative"}}},
    {"data": {"name": "p1"}, "mark": {"type": "rule", "color": "#000", "strokeWidth": 1.4, "clip": true},
     "encoding": {"x": {"field": "t", "type": "quantitative"}, "y": {"field": "lo", "type": "quantitative"}, "y2": {"field": "hi"}}},
    {"data": {"name": "p1"}, "mark": {"type": "rule", "color": "#999999", "strokeWidth": 1.3, "xOffset": 1.3, "clip": true},
     "encoding": {"x": {"field": "t", "type": "quantitative"}, "y": {"field": "gl", "type": "quantitative"}, "y2": {"field": "gh"}}},
    {"data": {"name": "p1"}, "mark": {"type": "rule", "color": "#ff0000", "strokeWidth": 1.2, "xOffset": 2.6, "clip": true},
     "encoding": {"x": {"field": "t", "type": "quantitative"}, "y": {"field": "rl", "type": "quantitative"}, "y2": {"field": "rh"}}},
    {"data": {"name": "p1l"}, "mark": {"type": "line", "strokeWidth": 1.5},
     "encoding": {"x": {"field": "t", "type": "quantitative"}, "y": {"field": "v", "type": "quantitative"}, "detail": {"field": "g"}, "color": {"field": "c", "type": "nominal", "scale": {"domain": ["k", "r"], "range": ["#000000", "#ff0000"]}, "legend": null}}},
    {"data": {"name": "n1p_txt"}, "mark": {"type": "text", "font": "Liberation Serif", "fontSize": 15, "color": "#000", "align": "center", "baseline": "middle", "clip": false},
     "encoding": {"x": {"field": "t", "type": "quantitative"}, "y": {"field": "v", "type": "quantitative"}, "text": {"field": "s"}}},
    {"data": {"name": "n1p_ar"}, "mark": {"type": "rule", "color": "#000", "strokeWidth": 1, "clip": false},
     "encoding": {"x": {"field": "t", "type": "quantitative"}, "y": {"field": "v", "type": "quantitative"}, "x2": {"field": "t2"}, "y2": {"field": "v2"}}},
    {"data": {"name": "n1p_h1"}, "mark": {"type": "point", "shape": "triangle-right", "filled": true, "color": "#000", "size": 25, "angle": 110, "opacity": 1, "clip": false},
     "encoding": {"x": {"field": "t", "type": "quantitative"}, "y": {"field": "v", "type": "quantitative"}}},
    {"data": {"name": "n1p_h2"}, "mark": {"type": "point", "shape": "triangle-right", "filled": true, "color": "#000", "size": 25, "angle": 123, "opacity": 1, "clip": false},
     "encoding": {"x": {"field": "t", "type": "quantitative"}, "y": {"field": "v", "type": "quantitative"}}}
   ]}
 ]},
 {"bounds": "flush", "spacing": 18, "vconcat": [
  {"width": 223, "height": 58, "title": {"text": "Test 2"},
   "layer": [
    {"data": {"name": "gxm"}, "mark": {"type": "rule", "color": "#00e000", "strokeWidth": 1},
     "encoding": {"x": {"field": "v", "type": "quantitative", "scale": {"domain": [2, 13.15], "nice": false, "zero": false}, "axis": {"values": [], "labels": false, "title": null}}}},
    {"data": {"name": "gxM"}, "mark": {"type": "rule", "color": "#2b2bff", "strokeWidth": 1, "strokeDash": [4, 2, 1, 2]}, "encoding": {"x": {"field": "v", "type": "quantitative"}}},
    {"data": {"name": "gyAm"}, "mark": {"type": "rule", "color": "#00e000", "strokeWidth": 1},
     "encoding": {"y": {"field": "v", "type": "quantitative", "scale": {"domain": [-1500, 1500], "nice": false, "zero": false}, "axis": {"values": [-1000, 0, 1000], "labelExpr": "'' + datum.value", "labelOverlap": false, "title": null}}}},
    {"data": {"name": "gyAM"}, "mark": {"type": "rule", "color": "#2b2bff", "strokeWidth": 1, "strokeDash": [4, 2, 1, 2]}, "encoding": {"y": {"field": "v", "type": "quantitative"}}},
    {"data": {"name": "a2"}, "mark": {"type": "rule", "color": "#000", "strokeWidth": 1.6, "clip": false},
     "encoding": {"x": {"field": "t", "type": "quantitative"}, "y": {"field": "lo", "type": "quantitative"}, "y2": {"field": "hi"}}},
    {"data": {"name": "a2"}, "mark": {"type": "rule", "color": "#999999", "strokeWidth": 1.6, "xOffset": 2, "clip": false},
     "encoding": {"x": {"field": "t", "type": "quantitative"}, "y": {"field": "gl", "type": "quantitative"}, "y2": {"field": "gh"}}},
    {"data": {"name": "a2l"}, "mark": {"type": "line", "color": "#000", "strokeWidth": 1.5},
     "encoding": {"x": {"field": "t", "type": "quantitative"}, "y": {"field": "v", "type": "quantitative"}, "detail": {"field": "g"}}}
   ]},
  {"width": 223, "height": 58,
   "layer": [
    {"data": {"name": "gxm"}, "mark": {"type": "rule", "color": "#00e000", "strokeWidth": 1},
     "encoding": {"x": {"field": "v", "type": "quantitative", "scale": {"domain": [2, 13.15], "nice": false, "zero": false}, "axis": {"values": [], "labels": false, "title": null}}}},
    {"data": {"name": "gxM"}, "mark": {"type": "rule", "color": "#2b2bff", "strokeWidth": 1, "strokeDash": [4, 2, 1, 2]}, "encoding": {"x": {"field": "v", "type": "quantitative"}}},
    {"data": {"name": "gyDm"}, "mark": {"type": "rule", "color": "#00e000", "strokeWidth": 1},
     "encoding": {"y": {"field": "v", "type": "quantitative", "scale": {"domain": [-10, 30], "nice": false, "zero": false}, "axis": {"values": [-10, 0, 10, 20, 30], "labelExpr": "'' + datum.value", "labelOverlap": false, "title": null}}}},
    {"data": {"name": "gyDM"}, "mark": {"type": "rule", "color": "#2b2bff", "strokeWidth": 1, "strokeDash": [4, 2, 1, 2]}, "encoding": {"y": {"field": "v", "type": "quantitative"}}},
    {"data": {"name": "d2"}, "mark": {"type": "rule", "color": "#000", "strokeWidth": 1.6, "clip": true},
     "encoding": {"x": {"field": "t", "type": "quantitative"}, "y": {"field": "lo", "type": "quantitative"}, "y2": {"field": "hi"}}},
    {"data": {"name": "d2"}, "mark": {"type": "rule", "color": "#999999", "strokeWidth": 1.6, "xOffset": 2, "clip": true},
     "encoding": {"x": {"field": "t", "type": "quantitative"}, "y": {"field": "gl", "type": "quantitative"}, "y2": {"field": "gh"}}},
    {"data": {"name": "d2l"}, "mark": {"type": "line", "color": "#000", "strokeWidth": 1.5},
     "encoding": {"x": {"field": "t", "type": "quantitative"}, "y": {"field": "v", "type": "quantitative"}, "detail": {"field": "g"}}}
   ]},
  {"width": 223, "height": 58,
   "layer": [
    {"data": {"name": "gxm"}, "mark": {"type": "rule", "color": "#00e000", "strokeWidth": 1},
     "encoding": {"x": {"field": "v", "type": "quantitative", "scale": {"domain": [2, 13.15], "nice": false, "zero": false}, "axis": {"values": [], "labels": false, "title": null}}}},
    {"data": {"name": "gxM"}, "mark": {"type": "rule", "color": "#2b2bff", "strokeWidth": 1, "strokeDash": [4, 2, 1, 2]}, "encoding": {"x": {"field": "v", "type": "quantitative"}}},
    {"data": {"name": "gyDm"}, "mark": {"type": "rule", "color": "#00e000", "strokeWidth": 1},
     "encoding": {"y": {"field": "v", "type": "quantitative", "scale": {"domain": [-10, 30], "nice": false, "zero": false}, "axis": {"values": [-10, 0, 10, 20, 30], "labelExpr": "'' + datum.value", "labelOverlap": false, "title": null}}}},
    {"data": {"name": "gyDM"}, "mark": {"type": "rule", "color": "#2b2bff", "strokeWidth": 1, "strokeDash": [4, 2, 1, 2]}, "encoding": {"y": {"field": "v", "type": "quantitative"}}},
    {"data": {"name": "f2"}, "mark": {"type": "rule", "color": "#000", "strokeWidth": 1.6, "clip": true},
     "encoding": {"x": {"field": "t", "type": "quantitative"}, "y": {"field": "lo", "type": "quantitative"}, "y2": {"field": "hi"}}},
    {"data": {"name": "f2"}, "mark": {"type": "rule", "color": "#999999", "strokeWidth": 1.6, "xOffset": 2, "clip": true},
     "encoding": {"x": {"field": "t", "type": "quantitative"}, "y": {"field": "gl", "type": "quantitative"}, "y2": {"field": "gh"}}},
    {"data": {"name": "f2l"}, "mark": {"type": "line", "color": "#000", "strokeWidth": 1.5},
     "encoding": {"x": {"field": "t", "type": "quantitative"}, "y": {"field": "v", "type": "quantitative"}, "detail": {"field": "g"}}}
   ]},
  {"width": 223, "height": 58,
   "layer": [
    {"data": {"name": "gxm"}, "mark": {"type": "rule", "color": "#00e000", "strokeWidth": 1},
     "encoding": {"x": {"field": "v", "type": "quantitative", "scale": {"domain": [2, 13.15], "nice": false, "zero": false}, "axis": {"values": [2, 4, 6, 8, 10, 12], "labelExpr": "'' + datum.value", "labelOverlap": false, "title": "Elapsed time (sec)", "titleFontSize": 24, "titleX": 129, "titlePadding": 2}}}},
    {"data": {"name": "gxM"}, "mark": {"type": "rule", "color": "#2b2bff", "strokeWidth": 1, "strokeDash": [4, 2, 1, 2]}, "encoding": {"x": {"field": "v", "type": "quantitative"}}},
    {"data": {"name": "gyPm"}, "mark": {"type": "rule", "color": "#00e000", "strokeWidth": 1},
     "encoding": {"y": {"field": "v", "type": "quantitative", "scale": {"domain": [0, 35], "nice": false, "zero": false}, "axis": {"values": [0, 10, 20, 30], "labelExpr": "'' + datum.value", "labelOverlap": false, "title": null}}}},
    {"data": {"name": "gyPM"}, "mark": {"type": "rule", "color": "#2b2bff", "strokeWidth": 1, "strokeDash": [4, 2, 1, 2]}, "encoding": {"y": {"field": "v", "type": "quantitative"}}},
    {"data": {"name": "p2"}, "mark": {"type": "rule", "color": "#000", "strokeWidth": 4, "clip": true},
     "encoding": {"x": {"field": "t", "type": "quantitative"}, "y": {"field": "lo", "type": "quantitative"}, "y2": {"field": "hi"}}},
    {"data": {"name": "p2"}, "mark": {"type": "rule", "color": "#ff0000", "strokeWidth": 1.8, "xOffset": 2, "clip": true},
     "encoding": {"x": {"field": "t", "type": "quantitative"}, "y": {"field": "rl", "type": "quantitative"}, "y2": {"field": "rh"}}},
    {"data": {"name": "p2l"}, "mark": {"type": "line", "strokeWidth": 1.5},
     "encoding": {"x": {"field": "t", "type": "quantitative"}, "y": {"field": "v", "type": "quantitative"}, "detail": {"field": "g"}, "color": {"field": "c", "type": "nominal", "scale": {"domain": ["k", "r"], "range": ["#000000", "#ff0000"]}, "legend": null}}},
    {"data": {"name": "n2p_txt"}, "mark": {"type": "text", "font": "Liberation Serif", "fontSize": 15, "color": "#000", "align": "center", "baseline": "middle", "clip": false},
     "encoding": {"x": {"field": "t", "type": "quantitative"}, "y": {"field": "v", "type": "quantitative"}, "text": {"field": "s"}}},
    {"data": {"name": "n2p_txt2"}, "mark": {"type": "text", "font": "Liberation Serif", "fontSize": 15, "color": "#000", "align": "left", "baseline": "middle", "clip": false},
     "encoding": {"x": {"field": "t", "type": "quantitative"}, "y": {"field": "v", "type": "quantitative"}, "text": {"field": "s"}}},
    {"data": {"name": "n2p_ar"}, "mark": {"type": "rule", "color": "#000", "strokeWidth": 1, "clip": false},
     "encoding": {"x": {"field": "t", "type": "quantitative"}, "y": {"field": "v", "type": "quantitative"}, "x2": {"field": "t2"}, "y2": {"field": "v2"}}},
    {"data": {"name": "n2p_h1"}, "mark": {"type": "point", "shape": "triangle-right", "filled": true, "color": "#000", "size": 25, "angle": 130, "opacity": 1, "clip": false},
     "encoding": {"x": {"field": "t", "type": "quantitative"}, "y": {"field": "v", "type": "quantitative"}}},
    {"data": {"name": "n2p_h2"}, "mark": {"type": "point", "shape": "triangle-right", "filled": true, "color": "#000", "size": 25, "angle": 120, "opacity": 1, "clip": false},
     "encoding": {"x": {"field": "t", "type": "quantitative"}, "y": {"field": "v", "type": "quantitative"}}}
   ]}
 ]}
],
"spacing": 24
}
